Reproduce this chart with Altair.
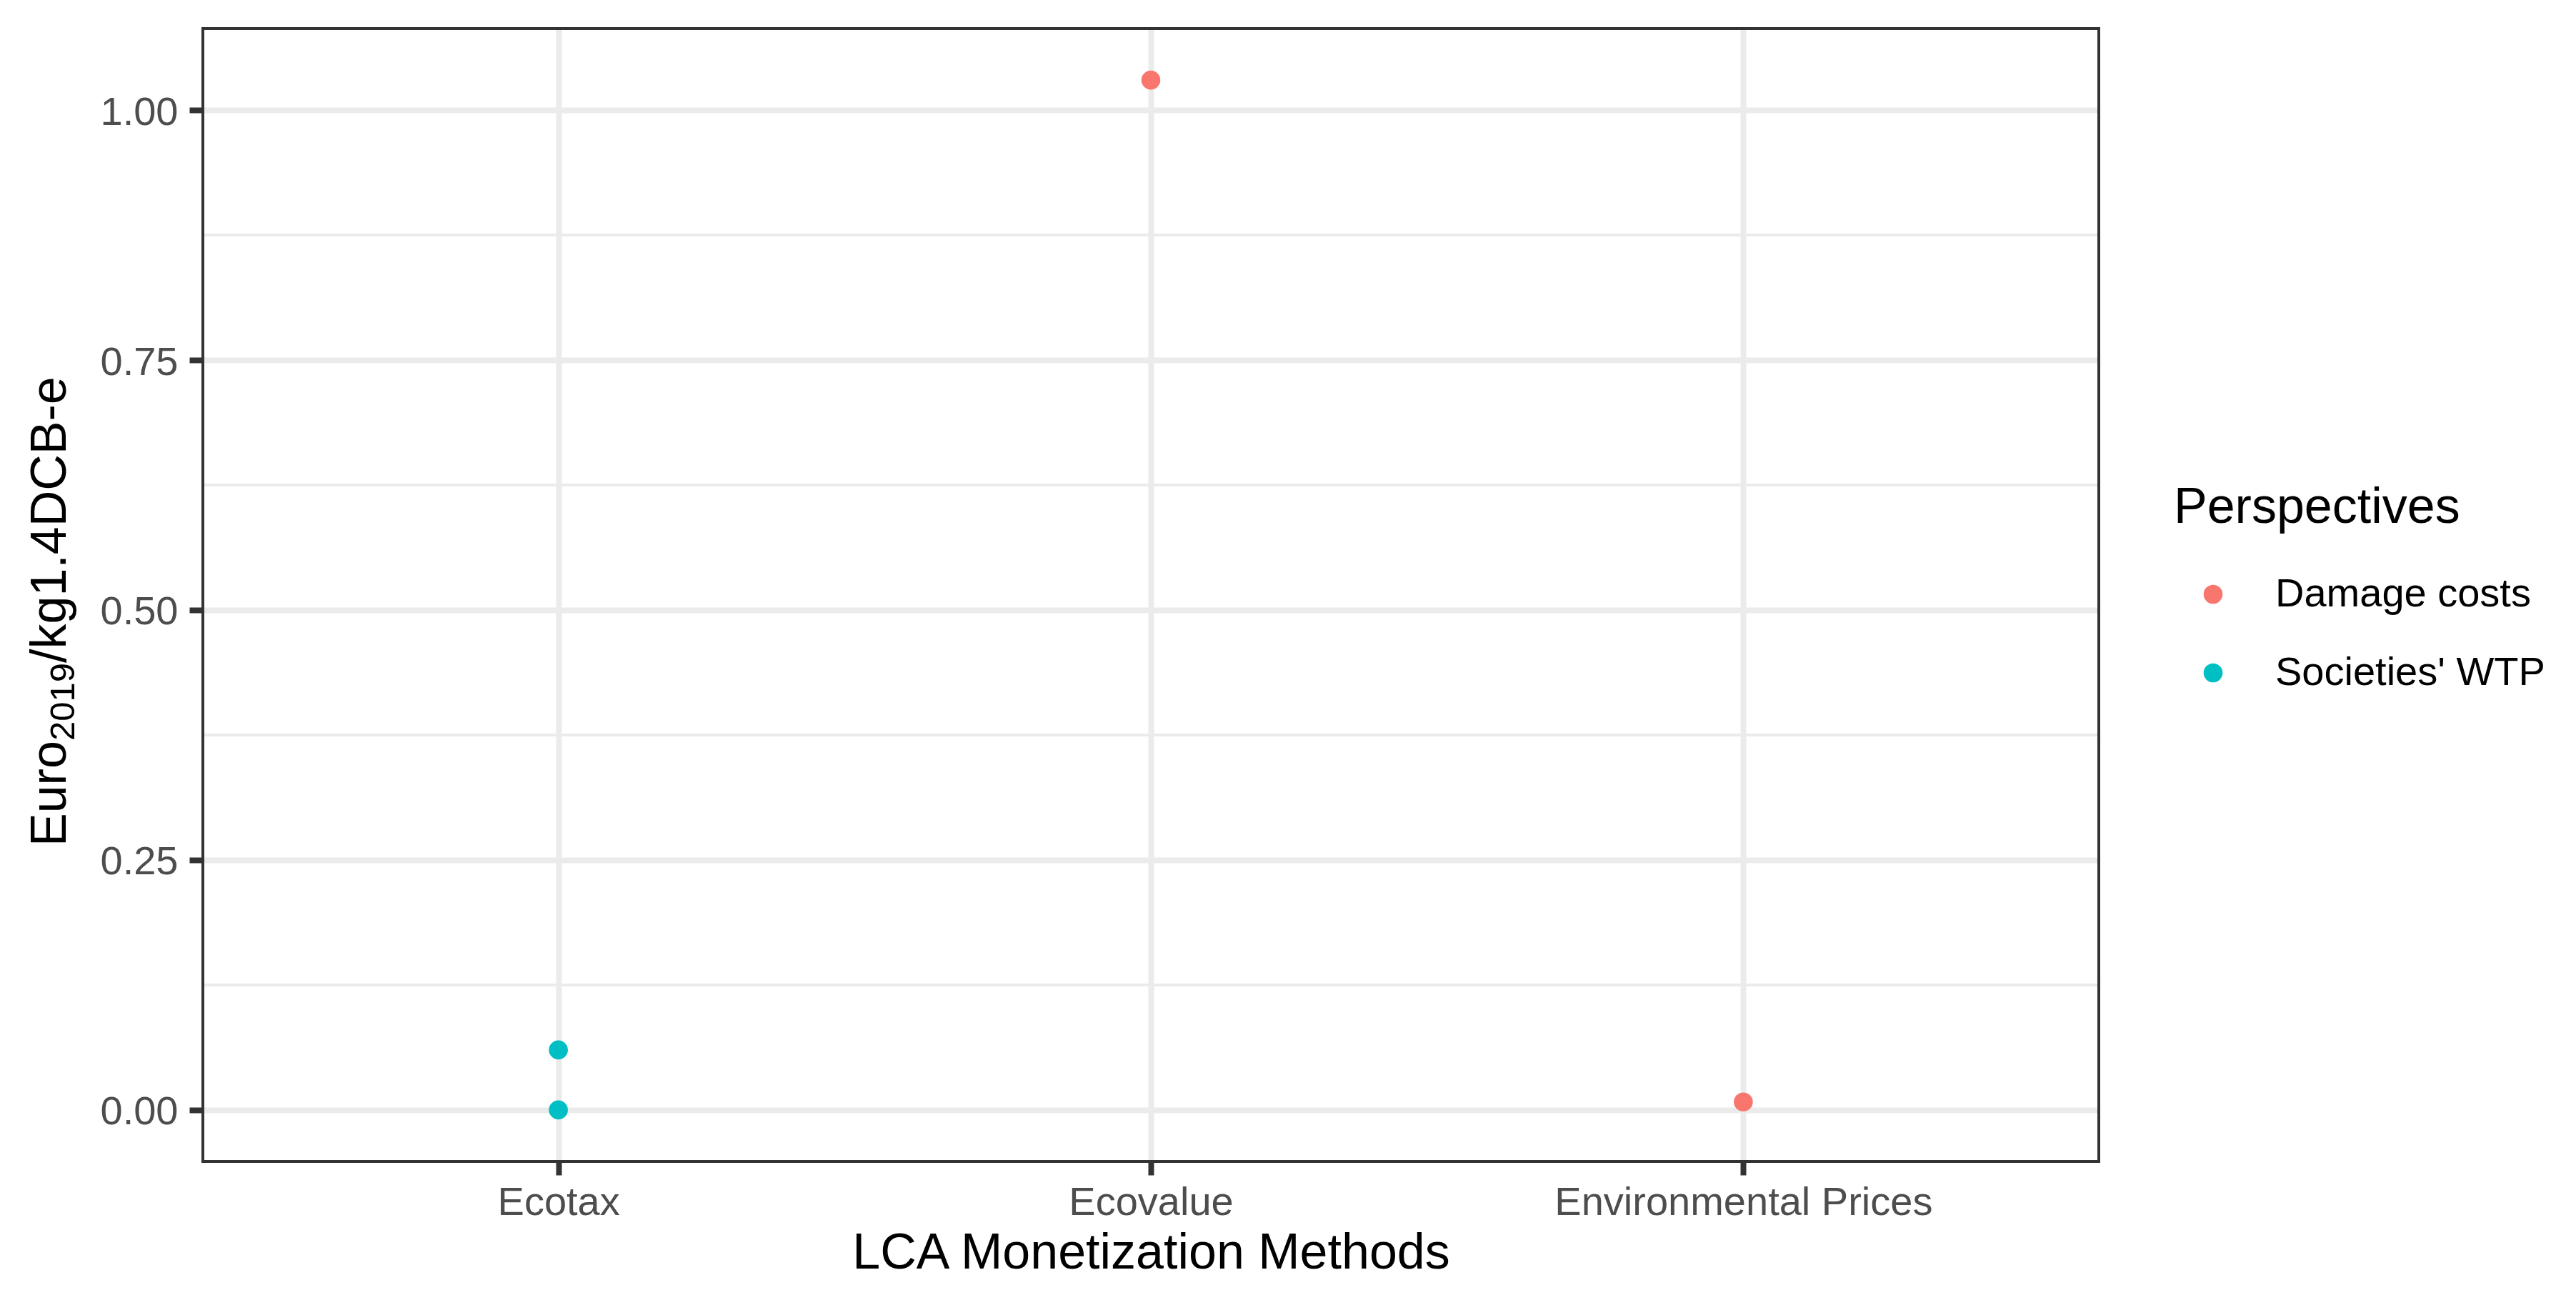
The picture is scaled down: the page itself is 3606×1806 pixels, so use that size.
import altair as alt
import pandas as pd

# ---- data ----
methods = ["Ecotax", "Ecotax", "Ecovalue", "Environmental Prices"]
perspectives = ["Societies' WTP", "Societies' WTP", "Damage costs", "Damage costs"]
values = [0.060, 0.0, 1.030, 0.008]

category_order = ["Ecotax", "Ecovalue", "Environmental Prices"]
legend_order = ["Damage costs", "Societies' WTP"]
legend_colors = ["#F8766D", "#00BFC4"]
major_breaks = [0.0, 0.25, 0.50, 0.75, 1.00]
minor_breaks = [0.125, 0.375, 0.625, 0.875]
ytitle_parts = ["Euro", "2019", "/kg1.4DCB-e"]

FONT = "Liberation Sans"
W, H = 2654, 1586

df = pd.DataFrame({"method": methods, "perspective": perspectives, "value": values})
minor_df = pd.DataFrame({"minor": minor_breaks})

lo, hi = min(values), max(values)
rng = hi - lo
ydom = [lo - 0.05 * rng, hi + 0.05 * rng]
yscale = alt.Scale(domain=ydom, nice=False, zero=False)

y_axis = alt.Axis(
    title=None,
    values=major_breaks, format=".2f",
    labelFont=FONT, labelFontSize=56, labelColor="#4D4D4D", labelLimit=0,
    labelBaseline="alphabetic", labelOffset=20, labelPadding=16,
    ticks=True, tickSize=19, tickWidth=8, tickColor="#333333",
    grid=True, gridColor="#EBEBEB", gridWidth=8,
    domain=False,
)

points = alt.Chart(df).mark_point(filled=True, opacity=1, size=707, strokeWidth=0).encode(
    x=alt.X(
        "method:N",
        sort=category_order,
        scale=alt.Scale(type="point", padding=0.6),
        axis=alt.Axis(
            title="LCA Monetization Methods",
            titleFont=FONT, titleFontSize=70, titleFontWeight="normal", titleColor="black",
            titleX=W / 2, titleY=149, titleAlign="center", titleBaseline="alphabetic",
            titleLimit=0,
            labelFont=FONT, labelFontSize=56, labelColor="#4D4D4D", labelAngle=0,
            labelBaseline="alphabetic", labelPadding=55, labelLimit=0,
            ticks=True, tickSize=19, tickWidth=8, tickColor="#333333",
            grid=True, gridColor="#EBEBEB", gridWidth=8,
            domain=False,
        ),
    ),
    y=alt.Y("value:Q", scale=yscale, axis=y_axis),
    color=alt.Color(
        "perspective:N",
        scale=alt.Scale(domain=legend_order, range=legend_colors),
        legend=alt.Legend(
            title="Perspectives", orient="none", legendX=2759, legendY=637,
            titleFont=FONT, titleFontSize=70, titleFontWeight="normal", titleColor="black",
            titlePadding=57, padding=0, titleLimit=0,
            labelFont=FONT, labelFontSize=56, labelColor="black", labelBaseline="middle",
            labelLimit=0,
            symbolType="circle", symbolSize=707, symbolStrokeWidth=0, symbolOpacity=1,
            symbolOffset=27, labelOffset=59, rowPadding=54,
        ),
    ),
)

minor_grid = alt.Chart(minor_df).mark_rule(color="#EBEBEB", strokeWidth=4).encode(
    y=alt.Y("minor:Q", scale=yscale, axis=y_axis)
)

border = alt.Chart(pd.DataFrame({"k": [0]})).mark_rect(
    fill=None, fillOpacity=0, stroke="#333333", strokeWidth=4
).encode(x=alt.value(0), x2=alt.value(W), y=alt.value(0), y2=alt.value(H))


def title_part(text, x, y, size):
    return alt.Chart(pd.DataFrame({"t": [text]})).mark_text(
        angle=270, align="left", baseline="alphabetic", font=FONT, fontSize=size, color="black"
    ).encode(text="t:N", x=alt.value(x), y=alt.value(y))


t1 = title_part(ytitle_parts[0], -192, 1145, 70)
t2 = title_part(ytitle_parts[1], -180, 997, 49)
t3 = title_part(ytitle_parts[2], -192, 888, 70)

chart = alt.layer(minor_grid, points, border, t1, t2, t3).properties(
    width=W, height=H,
    autosize=alt.AutoSizeParams(type="none"),
    padding={"left": 276, "top": 32, "right": 660, "bottom": 172},
    background="white",
).configure_view(stroke=None).configure(font=FONT)

chart.save("out.html", embed_options={"renderer": "svg", "actions": False})
